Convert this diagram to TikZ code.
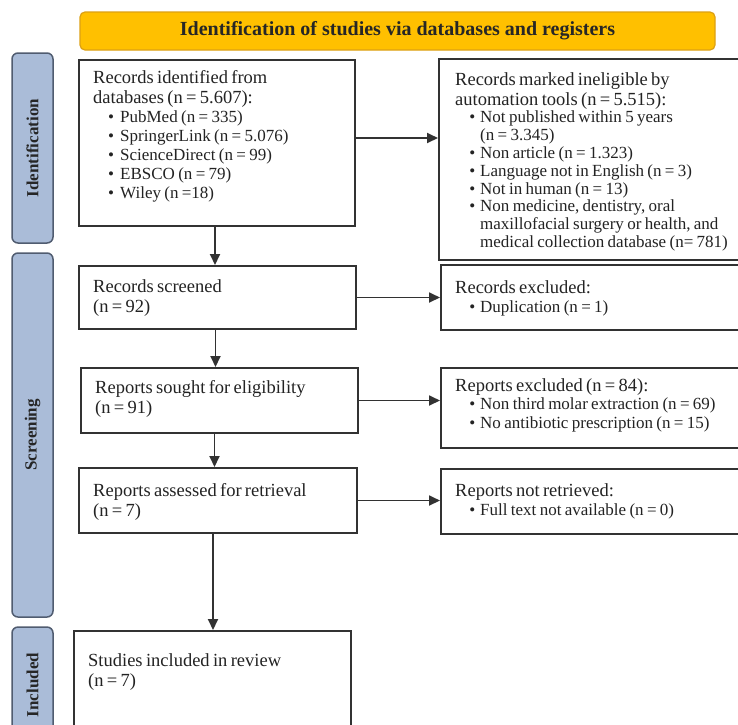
\documentclass[tikz,border=0pt]{standalone}
\usepackage{fontspec}
\setmainfont{Liberation Serif}
\usetikzlibrary{arrows.meta}
\definecolor{bannerfill}{RGB}{255,192,0}
\definecolor{bannerline}{RGB}{220,160,20}
\definecolor{phasefill}{RGB}{170,188,216}
\definecolor{phaseline}{RGB}{80,92,112}
\definecolor{boxline}{RGB}{50,50,50}
\definecolor{txtcol}{RGB}{35,35,35}
\newcommand\hdf{\fontsize{18.5}{20}\selectfont}
\newcommand\blf{\fontsize{17}{18}\selectfont}
\newcommand\bulA[1]{\makebox[27pt][r]{\textbullet\hspace{6pt}}#1}
\newcommand\bulB[1]{\makebox[25pt][r]{\textbullet\hspace{5pt}}#1}
\newcommand\contB{\hspace*{25pt}}
\tikzset{
  boxnode/.style={draw=boxline, line width=2pt, rectangle, inner sep=0pt, anchor=north west},
  txtnode/.style={anchor=north west, inner sep=0pt, align=left, text=txtcol, text width=290pt},
  phase/.style={draw=phaseline, fill=phasefill, line width=1.5pt, rounded corners=6pt, rectangle,
    inner sep=0pt, rotate=90, text=black!85, font=\fontsize{17}{19}\selectfont\bfseries},
  banner/.style={draw=bannerline, fill=bannerfill, line width=1.2pt, rounded corners=5pt, rectangle,
    inner sep=0pt, text=black!85, font=\fontsize{20}{22}\selectfont\bfseries},
  arr/.style={draw=boxline, line width=1.8pt, -{Triangle[length=11pt,width=10pt]}}
}
\begin{document}
\begin{tikzpicture}[x=1pt, y=-1pt]
\useasboundingbox (0,0) rectangle (738,724);
\path[clip] (0,0) rectangle (738,724);
\fill[white] (0,0) rectangle (738,724);

% banner
\node[banner, minimum width=635pt, minimum height=38pt] (ban) at (397.5,31) {Identification of studies via databases and registers};

% phase labels
\node[phase, minimum width=190pt, minimum height=41pt] (idp) at (32.5,148) {Identification};
\node[phase, minimum width=364pt, minimum height=41pt] (scp) at (32.5,435) {Screening};
\node[phase, minimum width=116pt, minimum height=41pt] (inp) at (32.5,685) {Included};

% boxes
\node[boxnode, minimum width=276pt, minimum height=166pt] (rec) at (78,59) {};
\node[boxnode, minimum width=300pt, minimum height=201pt] (inel) at (438,58) {};
\node[boxnode, minimum width=277pt, minimum height=63pt] (scr) at (78,265) {};
\node[boxnode, minimum width=298pt, minimum height=65pt] (ex1) at (440,264) {};
\node[boxnode, minimum width=277pt, minimum height=65pt] (sou) at (80,367) {};
\node[boxnode, minimum width=298pt, minimum height=80pt] (ex2) at (440,367) {};
\node[boxnode, minimum width=278pt, minimum height=65pt] (ass) at (78,467) {};
\node[boxnode, minimum width=298pt, minimum height=65pt] (nr) at (440,468) {};
\node[boxnode, minimum width=277pt, minimum height=110pt] (inc) at (73,630) {};

% texts
\node[txtnode] (recT) at (93,70) {\parindent=0pt\hdf Records identified from\\ databases (n = 5.607):\par
\blf\setlength{\baselineskip}{19pt}\bulA{PubMed (n = 335)}\\ \bulA{SpringerLink (n = 5.076)}\\ \bulA{ScienceDirect (n = 99)}\\ \bulA{EBSCO (n = 79)}\\ \bulA{Wiley (n =18)}\par};

\node[txtnode] (inelT) at (455,72) {\parindent=0pt\hdf Records marked ineligible by\\ automation tools (n = 5.515):\par
\blf\setlength{\baselineskip}{17.8pt}\bulB{Not published within 5 years}\\ \contB(n = 3.345)\\ \bulB{Non article (n = 1.323)}\\ \bulB{Language not in English (n = 3)}\\ \bulB{Not in human (n = 13)}\\ \bulB{Non medicine, dentistry, oral}\\ \contB maxillofacial surgery or health, and\\ \contB medical collection database (n= 781)\par};

\node[txtnode] (scrT) at (93,279) {\parindent=0pt\hdf Records screened\\ (n = 92)\par};
\node[txtnode] (ex1T) at (455,280) {\parindent=0pt\hdf Records excluded:\par
\blf\setlength{\baselineskip}{19pt}\bulB{Duplication (n = 1)}\par};

\node[txtnode] (souT) at (95,380) {\parindent=0pt\hdf Reports sought for eligibility\\ (n = 91)\par};
\node[txtnode] (ex2T) at (455,378) {\parindent=0pt\hdf Reports excluded (n = 84):\par
\blf\setlength{\baselineskip}{18.5pt}\bulB{Non third molar extraction (n = 69)}\\ \bulB{No antibiotic prescription (n = 15)}\par};

\node[txtnode] (assT) at (93,483) {\parindent=0pt\hdf Reports assessed for retrieval\\ (n = 7)\par};
\node[txtnode] (nrT) at (455,483) {\parindent=0pt\hdf Reports not retrieved:\par
\blf\setlength{\baselineskip}{19pt}\bulB{Full text not available (n = 0)}\par};

\node[txtnode] (incT) at (88,653) {\parindent=0pt\hdf Studies included in review\\ (n = 7)\par};

% connectors
\draw[arr] ([yshift=5pt]rec.east) -- ([yshift=5pt]rec.east -| inel.west);
\draw[arr] ([xshift=-2pt]rec.south) -- ([xshift=-2pt]rec.south |- scr.north);
\draw[arr] (scr.east) -- (scr.east -| ex1.west);
\draw[arr] ([xshift=-2pt]scr.south) -- ([xshift=-2pt]scr.south |- sou.north);
\draw[arr] (sou.east) -- (sou.east -| ex2.west);
\draw[arr] ([xshift=-5pt]sou.south) -- ([xshift=-5pt]sou.south |- ass.north);
\draw[arr] (ass.east) -- (ass.east -| nr.west);
\draw[arr] ([xshift=-5pt]ass.south) -- ([xshift=-5pt]ass.south |- inc.north);
\end{tikzpicture}
\end{document}
